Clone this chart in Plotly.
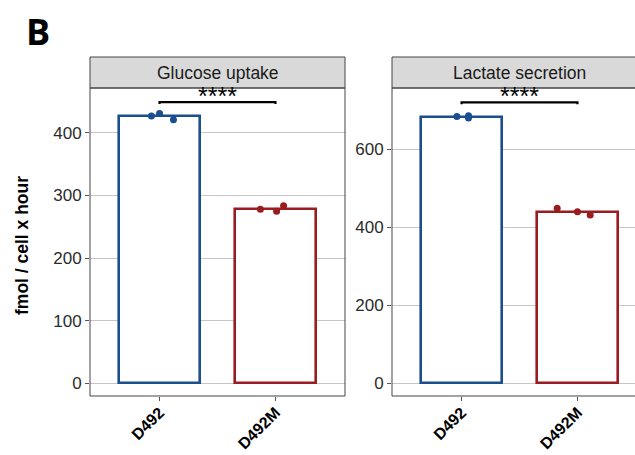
import plotly.graph_objects as go

# ---------------- data ----------------
categories = ["D492", "D492M"]
panels = ["Glucose uptake", "Lactate secretion"]

glucose_means = [427, 279]
lactate_means = [683, 440]

glucose_points = [[431, 427, 421], [278, 275, 283.5]]
lactate_points = [[684, 686, 680], [449, 440, 431.5]]

# horizontal jitter offsets (in category units) for the individual points
glucose_jitter = [[0.0, -0.07, 0.12], [-0.13, 0.01, 0.07]]
lactate_jitter = [[-0.04, 0.06, 0.06], [-0.175, 0.0, 0.11]]

signif_label = "****"
glucose_bracket = 449
lactate_bracket = 720

y_title = "fmol / cell x hour"
panel_letter = "B"

# ---------------- style ----------------
W, H = 635, 455
colors = ["#1B4E8E", "#9B1C20"]
FONT = "Liberation Sans, Arial, sans-serif"


def px(x):
    return x / W


def py(y):
    return 1 - y / H


panel_top, panel_bot = 88, 396
strip_top = 57
left_panel = (90, 345)
right_panel = (392, 647)
unit_px = (left_panel[1] - left_panel[0]) / 2.2

fig = go.Figure()

specs = [
    ("x", "y", glucose_means, glucose_points, glucose_jitter, glucose_bracket, [-20.3, 471.7]),
    ("x2", "y2", lactate_means, lactate_points, lactate_jitter, lactate_bracket, [-32.6, 757]),
]

for (xa, ya, means, pts, jit, br, yr) in specs:
    fig.add_trace(go.Bar(
        x=[0, 1], y=means, width=0.7, xaxis=xa, yaxis=ya,
        marker=dict(color="white", line=dict(color=colors, width=2.6)),
        showlegend=False, hoverinfo="skip"))
    for i in range(2):
        fig.add_trace(go.Scatter(
            x=[i + j for j in jit[i]], y=pts[i], mode="markers", xaxis=xa, yaxis=ya,
            marker=dict(color=colors[i], size=7), showlegend=False, hoverinfo="skip"))
    tip = (yr[1] - yr[0]) * 0.006
    fig.add_trace(go.Scatter(
        x=[0, 0, 1, 1], y=[br - tip, br, br, br - tip], mode="lines", xaxis=xa, yaxis=ya,
        line=dict(color="black", width=2.2), showlegend=False, hoverinfo="skip"))
    fig.add_annotation(x=0.5, y=br, xref=xa, yref=ya, text=signif_label, showarrow=False,
                       xanchor="center", yanchor="bottom", yshift=-10,
                       font=dict(family=FONT, size=25, color="black"))

tick_common = dict(ticks="outside", ticklen=4, tickcolor="#555555", tickwidth=1,
                   showline=False, zeroline=False, automargin=False)
ytickfont = dict(family=FONT, size=17, color="#2B2B2B")
xtickfont = dict(family=FONT, size=16, color="black", weight="bold")

vis_right = (W - right_panel[0]) / unit_px

fig.update_layout(
    width=W, height=H, margin=dict(l=0, r=0, t=0, b=0, autoexpand=False),
    plot_bgcolor="white", paper_bgcolor="white", bargap=0,
    xaxis=dict(domain=[px(left_panel[0]), px(left_panel[1])], range=[-0.6, 1.6],
               tickvals=[0, 1], ticktext=categories, tickangle=-45, showgrid=False,
               anchor="y", tickfont=xtickfont, ticklabelstandoff=-4, **tick_common),
    yaxis=dict(domain=[py(panel_bot), py(panel_top)], range=specs[0][6], dtick=100,
               showgrid=True, gridcolor="#C6C6C6", gridwidth=1, anchor="x",
               tickfont=ytickfont, **tick_common),
    xaxis2=dict(domain=[px(right_panel[0]), 1], range=[-0.6, -0.6 + vis_right],
                tickvals=[0, 1], ticktext=categories, tickangle=-45, showgrid=False,
                anchor="y2", tickfont=xtickfont, ticklabelstandoff=-4, **tick_common),
    yaxis2=dict(domain=[py(panel_bot), py(panel_top)], range=specs[1][6], dtick=200,
                showgrid=True, gridcolor="#C6C6C6", gridwidth=1, anchor="x2",
                tickfont=ytickfont, **tick_common),
)

shapes = []
for (x0, x1), title in zip([left_panel, right_panel], panels):
    shapes.append(dict(type="rect", xref="paper", yref="paper",
                       x0=px(x0), x1=px(x1), y0=py(panel_top), y1=py(strip_top),
                       fillcolor="#D9D9D9", line=dict(color="#444444", width=1), layer="above"))
    shapes.append(dict(type="rect", xref="paper", yref="paper",
                       x0=px(x0), x1=px(x1), y0=py(panel_bot), y1=py(panel_top),
                       fillcolor="rgba(0,0,0,0)", line=dict(color="#444444", width=1), layer="above"))
    fig.add_annotation(x=px((x0 + x1) / 2), y=py((strip_top + panel_top) / 2),
                       xref="paper", yref="paper", text=title, showarrow=False,
                       xanchor="center", yanchor="middle",
                       font=dict(family=FONT, size=17.5, color="#1A1A1A"))
fig.update_layout(shapes=shapes)

fig.add_annotation(x=px(22), y=py(246), xref="paper", yref="paper", text=y_title,
                   textangle=-90, showarrow=False, xanchor="center", yanchor="middle",
                   font=dict(family=FONT, size=17.5, color="black", weight="bold"))
fig.add_annotation(x=px(24), y=py(32), xref="paper", yref="paper", text=panel_letter,
                   xanchor="left", yanchor="middle", showarrow=False,
                   font=dict(family="Open Sans, sans-serif", size=36, color="black", weight="bold"))

fig.write_html("out.html", post_script="document.body.style.margin='0';",
               config={"displayModeBar": False})
